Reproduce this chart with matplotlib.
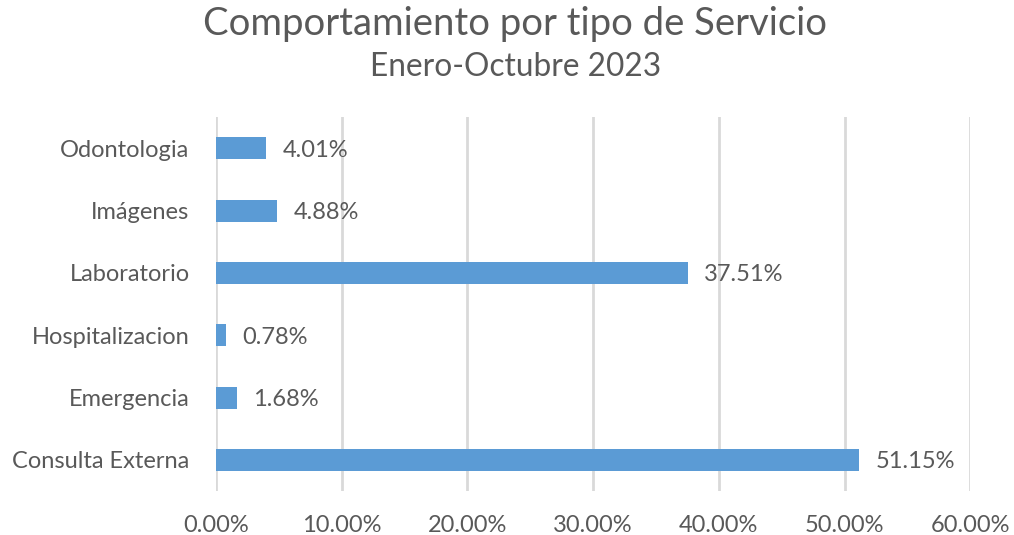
import matplotlib
matplotlib.use('Agg')
import matplotlib.pyplot as plt
from matplotlib.ticker import FuncFormatter

categorias = ['Consulta Externa', 'Emergencia', 'Hospitalizacion', 'Laboratorio', 'Imágenes', 'Odontologia']
porcentajes = [51.15, 1.68, 0.78, 37.51, 4.88, 4.01]
ticks_x = [0, 10, 20, 30, 40, 50, 60]

gris = '#595959'
azul = '#5B9BD5'
plt.rcParams['font.family'] = ['Lato', 'DejaVu Sans']

fig = plt.figure(figsize=(10.14, 5.35), dpi=100)
ax = fig.add_axes([0.213, 0.082, 0.744, 0.699])

ax.barh(range(len(categorias)), porcentajes, height=0.35, color=azul, zorder=3)
ax.set_ylim(-0.5, len(categorias) - 0.5)
ax.set_xlim(0, 60)
ax.set_xticks(ticks_x)
ax.xaxis.set_major_formatter(FuncFormatter(lambda v, p: '%.2f%%' % v))
ax.set_yticks(range(len(categorias)))
ax.set_yticklabels(categorias)
ax.tick_params(axis='both', length=0, labelsize=17, colors=gris)
ax.tick_params(axis='x', pad=17)
ax.tick_params(axis='y', pad=19)
ax.grid(axis='x', color='#D9D9D9', linewidth=2, zorder=0)
for s in ax.spines.values():
	s.set_visible(False)

for i, v in enumerate(porcentajes):
	ax.text(v + 1.3, i - 0.03, '%.2f%%' % v, va='center', ha='left', fontsize=17, color=gris)

fig.text(0.508, 0.955, 'Comportamiento por tipo de Servicio', ha='center', va='center', fontsize=27.5, color=gris)
fig.text(0.508, 0.874, 'Enero-Octubre 2023', ha='center', va='center', fontsize=22.8, color=gris)

fig.savefig('out.png', dpi=100)
